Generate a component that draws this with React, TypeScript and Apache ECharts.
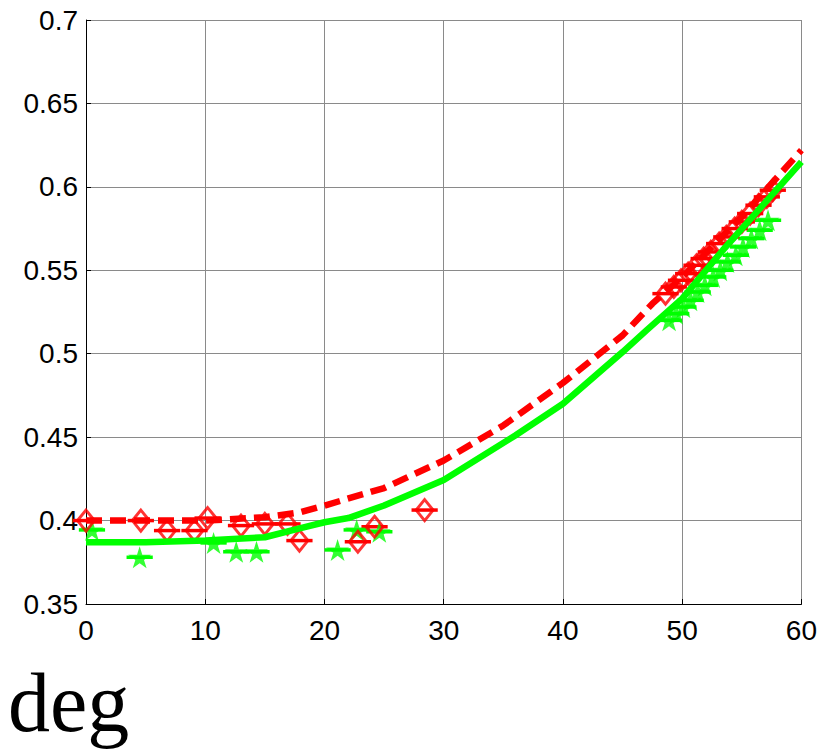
import React, { useEffect, useRef } from "react";
import * as echarts from "echarts";

// Fitted curves
const redCurve: [number, number][] = [
  [0, 0.4], [5, 0.4], [10, 0.4], [15, 0.402], [18, 0.405], [20, 0.409], [25, 0.4195],
  [30, 0.436], [35, 0.457], [40, 0.4825], [45, 0.511], [47.5, 0.53], [50, 0.546], [55, 0.582], [60, 0.622],
];
const greenCurve: [number, number][] = [
  [0, 0.387], [5, 0.387], [10, 0.388], [15, 0.39], [18, 0.3955], [20, 0.399], [22, 0.4015], [25, 0.409],
  [30, 0.4243], [36, 0.451], [40, 0.47], [45, 0.501], [47, 0.514], [50, 0.533], [53.4, 0.562], [60, 0.615],
];

// Measured points
const redPoints: [number, number][] = [
  [0, 0.4], [4.6, 0.4], [6.8, 0.394], [9.1, 0.394], [10.2, 0.4015], [13, 0.397], [15, 0.398],
  [16.9, 0.398], [17.9, 0.388], [22.8, 0.3873], [24.2, 0.3963], [28.4, 0.4063],
  [48.6, 0.536], [49.3, 0.54], [49.9, 0.544], [50.5, 0.548], [51.2, 0.553], [51.8, 0.557], [52.4, 0.561],
  [53.1, 0.566], [53.7, 0.57], [54.4, 0.575], [55.0, 0.579], [55.7, 0.584], [56.4, 0.589], [57.1, 0.594], [57.6, 0.598],
];
const greenPoints: [number, number][] = [
  [0.5, 0.3944], [4.5, 0.378], [10.7, 0.3866], [12.6, 0.3813], [14.3, 0.3813], [21.1, 0.3824],
  [22.7, 0.3944], [24.6, 0.3933],
  [48.9, 0.52], [49.5, 0.524], [50.1, 0.528], [50.7, 0.532], [51.3, 0.537], [51.9, 0.541], [52.6, 0.546],
  [53.2, 0.55], [53.8, 0.555], [54.5, 0.559], [55.1, 0.564], [55.8, 0.569], [56.5, 0.574], [57.2, 0.58],
];
const errHalfWidth = 1.1;

const xTicks = [0, 10, 20, 30, 40, 50, 60];
const yTicks = [0.35, 0.4, 0.45, 0.5, 0.55, 0.6, 0.65, 0.7];
const xLabel = "deg";

const RED = "#ff0000";
const GREEN = "#00ff00";
const STAR =
  "path://M50,0 L61,35 L98,35 L68,57 L79,91 L50,70 L21,91 L32,57 L2,35 L39,35 Z";

function errorBars(name: string, pts: [number, number][], color: string) {
  return {
    name,
    type: "custom",
    data: pts.map((p) => [p[0], p[1]]),
    renderItem: (params: any, api: any) => {
      const x = api.value(0);
      const y = api.value(1);
      const a = api.coord([x - errHalfWidth, y]);
      const b = api.coord([x + errHalfWidth, y]);
      return {
        type: "line",
        shape: { x1: a[0], y1: a[1], x2: b[0], y2: b[1] },
        style: { stroke: color, lineWidth: 3.5 },
      };
    },
    z: 3,
  };
}

export default function App() {
  const ref = useRef<HTMLDivElement>(null);
  useEffect(() => {
    if (!ref.current) return;
    const chart = echarts.init(ref.current, undefined, { renderer: "svg" });
    const font = "'Liberation Sans', Arial, sans-serif";
    chart.setOption({
      animation: false,
      backgroundColor: "#ffffff",
      grid: { left: 86, right: 18, top: 20, bottom: 151, containLabel: false },
      xAxis: {
        type: "value",
        min: xTicks[0],
        max: xTicks[xTicks.length - 1],
        interval: 10,
        axisLine: { show: true, onZero: false, lineStyle: { color: "#000", width: 1 } },
        axisTick: { show: true, inside: true, length: 5, lineStyle: { color: "#000" } },
        axisLabel: { color: "#000", fontSize: 28, fontFamily: font, margin: 12 },
        splitLine: { show: true, lineStyle: { color: "#8a8a8a", width: 1 } },
      },
      yAxis: {
        type: "value",
        min: yTicks[0],
        max: yTicks[yTicks.length - 1],
        interval: 0.05,
        axisLine: { show: true, onZero: false, lineStyle: { color: "#000", width: 1 } },
        axisTick: { show: true, inside: true, length: 5, lineStyle: { color: "#000" } },
        axisLabel: {
          color: "#000",
          fontSize: 28,
          fontFamily: font,
          margin: 8,
          formatter: (v: number) => String(Math.round(v * 100) / 100),
        },
        splitLine: { show: true, lineStyle: { color: "#8a8a8a", width: 1 } },
      },
      series: [
        errorBars("green err", greenPoints, GREEN),
        {
          name: "green pts",
          type: "scatter",
          data: greenPoints,
          symbol: STAR,
          symbolSize: [23, 22],
          itemStyle: { color: GREEN },
          z: 4,
        },
        errorBars("red err", redPoints, RED),
        {
          name: "red pts",
          type: "scatter",
          data: redPoints,
          symbol: "diamond",
          symbolSize: [17, 21],
          itemStyle: { color: "rgba(0,0,0,0)", borderColor: RED, borderWidth: 3 },
          z: 5,
        },
        {
          name: "red fit",
          type: "line",
          data: redCurve,
          showSymbol: false,
          lineStyle: { color: RED, width: 6.5, type: [16, 8] },
          z: 6,
        },
        {
          name: "green fit",
          type: "line",
          data: greenCurve,
          showSymbol: false,
          lineStyle: { color: GREEN, width: 6.5 },
          z: 7,
        },
      ],
      graphic: [
        {
          type: "text",
          left: 8,
          top: 660,
          style: {
            text: xLabel,
            fontSize: 84,
            lineHeight: 84,
            fontFamily: "'Liberation Serif', 'Times New Roman', serif",
            fill: "#000",
          },
        },
      ],
    });
    return () => chart.dispose();
  }, []);
  return (
    <div
      ref={ref}
      style={{ position: "fixed", left: 0, top: 0, width: 820, height: 755 }}
    />
  );
}
